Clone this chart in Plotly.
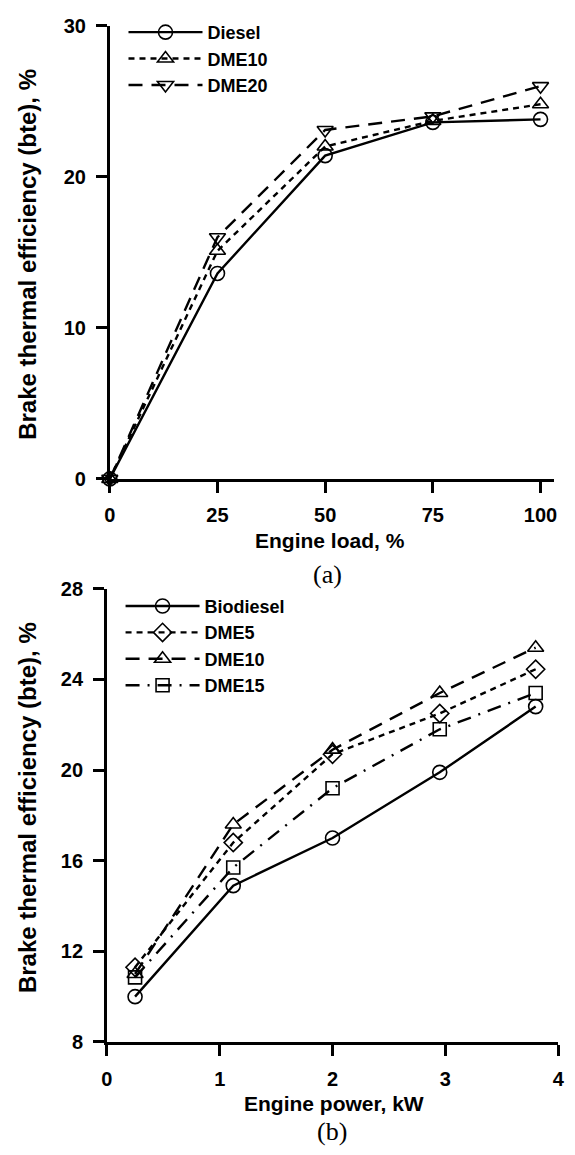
import plotly.graph_objects as go

# ---- data (a) ----
load_pct = [0, 25, 50, 75, 100]
bte_diesel = [0, 13.6, 21.4, 23.6, 23.8]
bte_dme10_a = [0, 15.1, 22.0, 23.7, 24.8]
bte_dme20_a = [0, 16.0, 23.1, 24.0, 26.0]

# ---- data (b) ----
power_kw = [0.25, 1.12, 2.0, 2.95, 3.8]
bte_biodiesel = [10.0, 14.9, 17.0, 19.9, 22.8]
bte_dme5 = [11.3, 16.8, 20.7, 22.5, 24.45]
bte_dme10_b = [11.0, 17.6, 20.9, 23.4, 25.4]
bte_dme15 = [10.85, 15.7, 19.2, 21.8, 23.4]

ticks_a_x = [0, 25, 50, 75, 100]
ticks_a_y = [0, 10, 20, 30]
ticks_b_x = [0, 1, 2, 3, 4]
ticks_b_y = [8, 12, 16, 20, 24, 28]

W, H = 575, 1155
FONT = "Liberation Sans, Arial, sans-serif"
SERIF = "Liberation Serif, Times New Roman, serif"
LW = 2.4
MLW = 1.6

def px_x(p):
    return p / W

def px_y(p):
    return 1 - p / H

fig = go.Figure()

def add(x, y, name, dash, symbol, size, xa, ya, legend):
    fig.add_trace(go.Scatter(
        x=x, y=y, name=name, mode="lines+markers",
        line=dict(color="black", width=LW, dash=dash),
        marker=dict(symbol=symbol, size=size, color="black",
                    line=dict(color="black", width=MLW)),
        xaxis=xa, yaxis=ya, legend=legend, cliponaxis=False,
    ))

add(load_pct, bte_diesel, "Diesel", "solid", "circle-open", 14, "x", "y", "legend")
add(load_pct, bte_dme10_a, "DME10", "6px,5px", "triangle-up-open", 14, "x", "y", "legend")
add(load_pct, bte_dme20_a, "DME20", "14px,9px", "triangle-down-open", 14, "x", "y", "legend")

add(power_kw, bte_biodiesel, "Biodiesel", "solid", "circle-open", 14, "x2", "y2", "legend2")
add(power_kw, bte_dme5, "DME5", "6px,5px", "diamond-open", 14, "x2", "y2", "legend2")
add(power_kw, bte_dme10_b, "DME10", "14px,9px", "triangle-up-open", 14, "x2", "y2", "legend2")
add(power_kw, bte_dme15, "DME15", "14px,8px,2px,8px", "square-open", 13, "x2", "y2", "legend2")

axis_common = dict(
    showline=True, linecolor="black", linewidth=2.6,
    ticks="outside", ticklen=11, tickwidth=2.6, tickcolor="black",
    showgrid=False, zeroline=False,
    tickfont=dict(family=FONT, size=20, color="black", weight="bold"),
    mirror=False,
)

leg_font = dict(family=FONT, size=18, color="black", weight="bold")

fig.update_layout(
    width=W, height=H,
    margin=dict(l=0, r=0, t=0, b=0),
    paper_bgcolor="white", plot_bgcolor="white",
    xaxis=dict(domain=[px_x(106), px_x(560)], range=[0, 103.2], tickvals=ticks_a_x,
               anchor="y", ticklabelstandoff=5, **axis_common),
    yaxis=dict(domain=[px_y(477), px_y(15)], range=[0, 30], tickvals=ticks_a_y,
               anchor="x", ticklabelstandoff=6, **axis_common),
    xaxis2=dict(domain=[px_x(103), px_x(564)], range=[0, 4], tickvals=ticks_b_x,
                anchor="y2", ticklabelstandoff=6, **axis_common),
    yaxis2=dict(domain=[px_y(1051), px_y(589)], range=[8, 28], tickvals=ticks_b_y,
                anchor="x2", ticklabelstandoff=6, **axis_common),
    legend=dict(x=px_x(120), y=px_y(3), xanchor="left", yanchor="top",
                bgcolor="rgba(0,0,0,0)", itemwidth=74, tracegroupgap=0,
                font=leg_font),
    legend2=dict(x=px_x(117), y=px_y(588), xanchor="left", yanchor="top",
                 bgcolor="rgba(0,0,0,0)", itemwidth=74, tracegroupgap=0,
                 font=leg_font),
    showlegend=True,
)

ann_font = dict(family=FONT, size=21, color="black", weight="bold")
ytitle_font = dict(family=FONT, size=24, color="black", weight="bold")
annotations = [
    dict(text="Engine load, %", x=px_x(331), y=px_y(540), font=ann_font),
    dict(text="(a)", x=px_x(328), y=px_y(574), font=dict(family=SERIF, size=26, color="black")),
    dict(text="Engine power, kW", x=px_x(335), y=px_y(1114), font=ann_font),
    dict(text="(b)", x=px_x(333), y=px_y(1142), font=dict(family=SERIF, size=26, color="black")),
    dict(text="Brake thermal efficiency (bte), %", x=px_x(22), y=px_y(248), textangle=-90, font=ytitle_font),
    dict(text="Brake thermal efficiency (bte), %", x=px_x(22), y=px_y(812), textangle=-90, font=ytitle_font),
]
for a in annotations:
    fig.add_annotation(xref="paper", yref="paper", showarrow=False,
                       xanchor="center", yanchor="middle", **a)

fig.write_html("out.html")
